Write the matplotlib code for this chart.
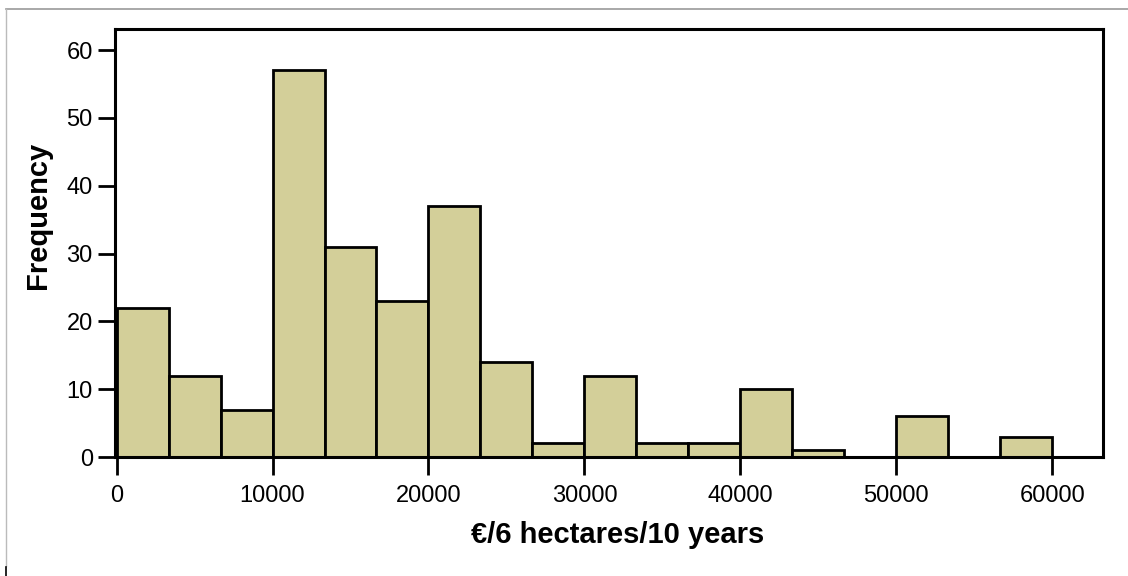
import matplotlib.pyplot as plt
import numpy as np

plt.rcParams['font.family'] = ['Liberation Sans', 'DejaVu Sans']

# histogram counts per bin, bins of equal width starting at 0
counts = [22, 12, 7, 57, 31, 23, 37, 14, 2, 12, 2, 2, 10, 1, 0, 6, 0, 3]
bin_start = 0
bin_width = 60000 / 18
x_ticks = [0, 10000, 20000, 30000, 40000, 50000, 60000]
y_ticks = [0, 10, 20, 30, 40, 50, 60]

fig = plt.figure(figsize=(11.28, 5.76), dpi=100)
ax = fig.add_axes([115 / 1128, 1 - 457 / 576, (1103 - 115) / 1128, (457 - 29) / 576])

lefts = bin_start + bin_width * np.arange(len(counts))
ax.bar(lefts, counts, width=bin_width, align='edge', color='#d3cf99',
       edgecolor='black', linewidth=2.0, zorder=2)

ax.set_xlim(-100, 63250)
ax.set_ylim(0, 63.1)
ax.set_xticks(x_ticks)
ax.set_yticks(y_ticks)
ax.tick_params(axis='both', direction='out', width=2, labelsize=17)
ax.tick_params(axis='x', length=13, pad=7)
ax.tick_params(axis='y', length=12, pad=4)

for s in ax.spines.values():
    s.set_linewidth(2.2)

ax.set_xlabel('€/6 hectares/10 years', fontsize=21, fontweight='bold')
ax.set_ylabel('Frequency', fontsize=21, fontweight='bold')
ax.xaxis.set_label_coords(0.509, -0.150)
ax.yaxis.set_label_coords(-0.064, 0.565)

# thin grey border line along top and left of the figure
fig.add_artist(plt.Line2D([6 / 1128, 1], [1 - 9 / 576, 1 - 9 / 576],
                          transform=fig.transFigure, color='#999999', linewidth=1.2))
fig.add_artist(plt.Line2D([6 / 1128, 6 / 1128], [10 / 576, 1 - 9 / 576],
                          transform=fig.transFigure, color='#bbbbbb', linewidth=1.0))
fig.add_artist(plt.Line2D([6 / 1128, 6 / 1128], [0, 9 / 576],
                          transform=fig.transFigure, color='black', linewidth=1.2))

fig.savefig('out.png', dpi=100)
